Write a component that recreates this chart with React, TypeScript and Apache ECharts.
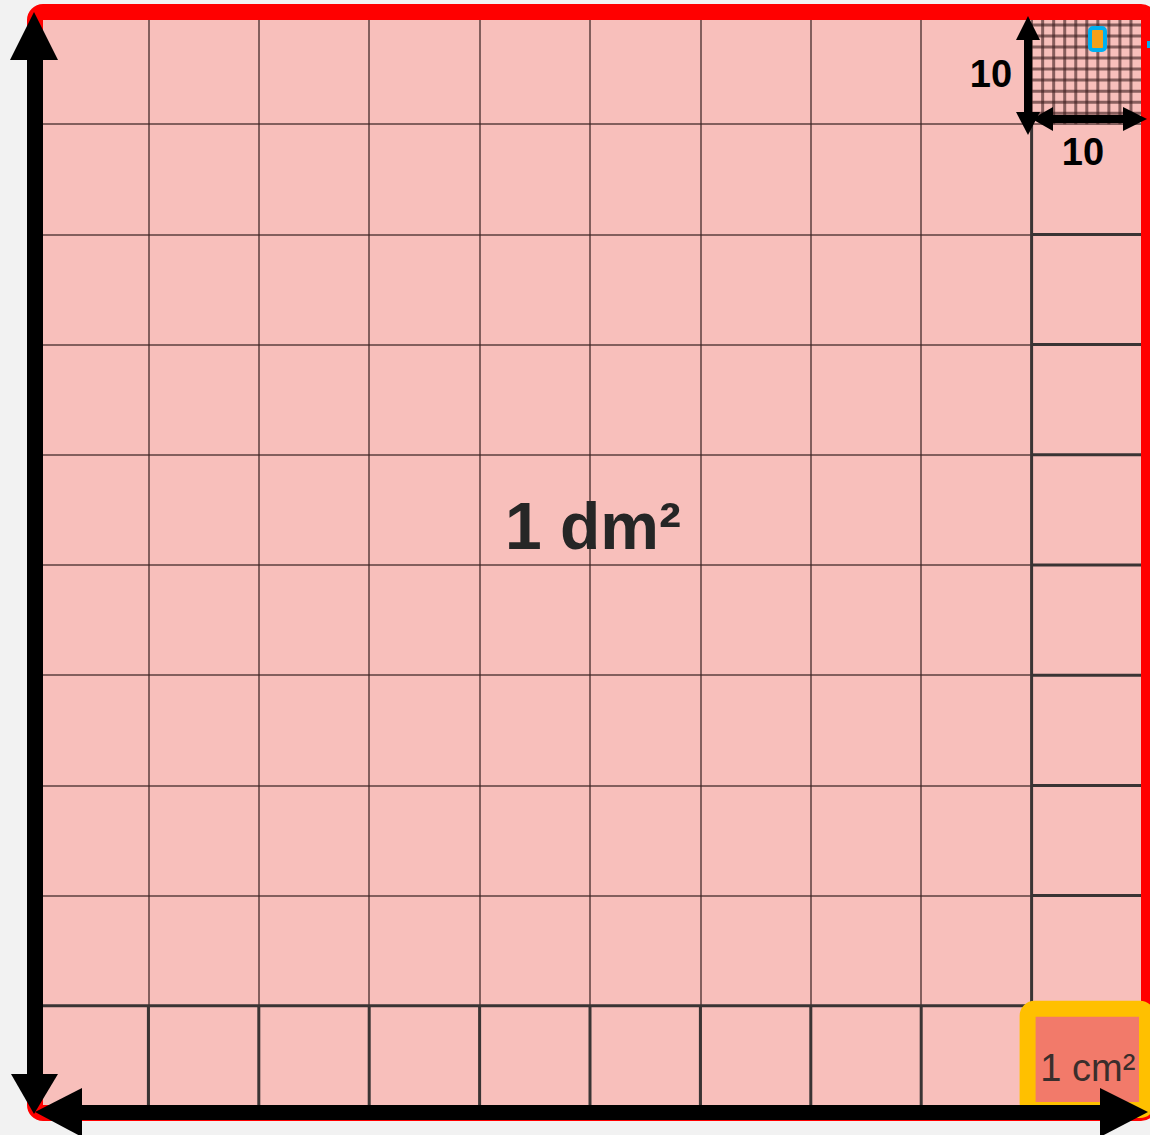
import React, { useEffect, useRef } from "react";
import * as echarts from "echarts";

// ---- data (square decomposed into 10 x 10 cells, one cell into 10 x 10 sub-cells)
const axisMin = 0;
const axisMax = 10;
const axisStep = 1;
const rowDividers = [1, 2, 3, 4, 5, 6, 7, 8]; // thick dividers in bottom row / right column
const separatorRow = 1; // thick line separating the bottom row
const separatorCol = 9; // thick line separating the right column
const fineCell = [9, 9]; // lower-left corner of the subdivided cell
const fineSteps = [1, 2, 3, 4, 5, 6, 7, 8, 9]; // tenth subdivisions
const unitCell = [9, 0]; // the highlighted 1 cm² cell
const bigLabel = "1 dm²";
const smallLabel = "1 cm²";
const sideLabels = ["10", "10"];

const GRID = { left: 38, top: 14, width: 1104, height: 1102 };

export default function App() {
  const ref = useRef<HTMLDivElement>(null);
  useEffect(() => {
    if (!ref.current) return;
    const chart = echarts.init(ref.current, null, { renderer: "svg" });

    const thickSegments: number[][] = [];
    rowDividers.forEach((v) => {
      thickSegments.push([v, 0, v, separatorRow]);
      thickSegments.push([separatorCol, v, axisMax, v]);
    });
    thickSegments.push([axisMin, separatorRow, axisMax, separatorRow]);
    thickSegments.push([separatorCol, axisMin, separatorCol, separatorCol]);

    const fineSegments: number[][] = [];
    fineSteps.forEach((k) => {
      const t = k / 10;
      fineSegments.push([fineCell[0] + t, fineCell[1], fineCell[0] + t, fineCell[1] + 1]);
      fineSegments.push([fineCell[0], fineCell[1] + t, fineCell[0] + 1, fineCell[1] + t]);
    });

    const axisCommon = {
      type: "value",
      min: axisMin,
      max: axisMax,
      interval: axisStep,
      axisLine: { show: false },
      axisTick: { show: false },
      axisLabel: { show: false },
      splitLine: { show: true, lineStyle: { color: "rgba(60,35,35,0.62)", width: 2 } },
    };

    const segRender = (color: string, width: number) => (params: any, api: any) => {
      const p1 = api.coord([api.value(0), api.value(1)]);
      const p2 = api.coord([api.value(2), api.value(3)]);
      return {
        type: "line",
        shape: { x1: p1[0], y1: p1[1], x2: p2[0], y2: p2[1] },
        style: { stroke: color, lineWidth: width },
      };
    };

    chart.setOption({
      animation: false,
      backgroundColor: "#f2f2f2",
      grid: { ...GRID, show: true, backgroundColor: "#f8bfbb", borderWidth: 0 },
      xAxis: axisCommon,
      yAxis: axisCommon,
      series: [
        {
          type: "custom",
          z: 10,
          renderItem: segRender("rgba(60,30,30,0.6)", 3),
          data: fineSegments,
          silent: true,
        },
        {
          type: "custom",
          z: 11,
          renderItem: segRender("#3a3434", 3),
          data: thickSegments,
          silent: true,
        },
        {
          type: "custom",
          z: 60,
          silent: true,
          data: [[unitCell[0], unitCell[1], unitCell[0] + 1, unitCell[1] + 1]],
          renderItem: (params: any, api: any) => {
            const p1 = api.coord([api.value(0), api.value(3)]);
            const p2 = api.coord([api.value(2), api.value(1)]);
            const x = p1[0] - 4;
            const y = p1[1] + 3;
            const w = p2[0] - p1[0] + 9;
            const h = p2[1] - p1[1] - 9;
            return {
              type: "group",
              children: [
                {
                  type: "rect",
                  shape: { x, y, width: w, height: h, r: 7 },
                  style: { fill: "#f27a6a", stroke: "#ffc000", lineWidth: 16 },
                },
                {
                  type: "text",
                  style: {
                    text: smallLabel,
                    x: (p1[0] + p2[0]) / 2 + 1,
                    y: (p1[1] + p2[1]) / 2 + 7,
                    align: "center",
                    verticalAlign: "middle",
                    fontSize: 38,
                    fontFamily: "Liberation Sans, Arial, sans-serif",
                    fill: "#3a2e2c",
                  },
                },
              ],
            };
          },
        },
      ],
      graphic: [
        // red frame
        {
          type: "rect",
          z: 50,
          silent: true,
          shape: { x: 35, y: 12, width: 1114, height: 1101, r: 8 },
          style: { fill: "none", stroke: "#ff0000", lineWidth: 16 },
        },
        // big label
        {
          type: "text",
          z: 100,
          style: {
            text: bigLabel,
            x: 593,
            y: 526,
            align: "center",
            verticalAlign: "middle",
            fontSize: 66,
            fontWeight: "bold",
            fontFamily: "Liberation Sans, Arial, sans-serif",
            fill: "#262626",
          },
        },
        // big vertical arrow
        { type: "rect", z: 100, shape: { x: 27, y: 50, width: 16, height: 1030 }, style: { fill: "#000" } },
        { type: "polygon", z: 100, shape: { points: [[34, 12], [10, 60], [58, 60]] }, style: { fill: "#000" } },
        { type: "polygon", z: 100, shape: { points: [[34, 1114], [11, 1074], [58, 1074]] }, style: { fill: "#000" } },
        // big horizontal arrow
        { type: "rect", z: 100, shape: { x: 60, y: 1105, width: 1060, height: 15 }, style: { fill: "#000" } },
        { type: "polygon", z: 100, shape: { points: [[35, 1112], [82, 1088], [82, 1137]] }, style: { fill: "#000" } },
        { type: "polygon", z: 100, shape: { points: [[1148, 1112], [1100, 1088], [1100, 1137]] }, style: { fill: "#000" } },
        // small vertical arrow
        { type: "rect", z: 100, shape: { x: 1024, y: 36, width: 8, height: 80 }, style: { fill: "#000" } },
        { type: "polygon", z: 100, shape: { points: [[1028, 16], [1016, 40], [1040, 40]] }, style: { fill: "#000" } },
        { type: "polygon", z: 100, shape: { points: [[1028, 135], [1016, 112], [1040, 112]] }, style: { fill: "#000" } },
        // small horizontal arrow
        { type: "rect", z: 100, shape: { x: 1045, y: 115, width: 85, height: 8 }, style: { fill: "#000" } },
        { type: "polygon", z: 100, shape: { points: [[1032, 119], [1053, 107], [1053, 131]] }, style: { fill: "#000" } },
        { type: "polygon", z: 100, shape: { points: [[1147, 119], [1123, 107], [1123, 131]] }, style: { fill: "#000" } },
        // side labels
        {
          type: "text",
          z: 100,
          style: {
            text: sideLabels[0],
            x: 991,
            y: 74,
            align: "center",
            verticalAlign: "middle",
            fontSize: 38,
            fontWeight: "bold",
            fontFamily: "Liberation Sans, Arial, sans-serif",
            fill: "#000",
          },
        },
        {
          type: "text",
          z: 100,
          style: {
            text: sideLabels[1],
            x: 1083,
            y: 152,
            align: "center",
            verticalAlign: "middle",
            fontSize: 38,
            fontWeight: "bold",
            fontFamily: "Liberation Sans, Arial, sans-serif",
            fill: "#000",
          },
        },
        // tiny marker
        {
          type: "rect",
          z: 100,
          shape: { x: 1090, y: 28, width: 15, height: 22, r: 3 },
          style: { fill: "#f5a01a", stroke: "#00b0f0", lineWidth: 4 },
        },
        { type: "rect", z: 100, shape: { x: 1147, y: 41, width: 6, height: 7 }, style: { fill: "#00b0f0" } },
      ],
    });
    return () => chart.dispose();
  }, []);

  return (
    <div
      ref={ref}
      style={{ position: "fixed", left: 0, top: 0, width: 1150, height: 1135, background: "#f2f2f2" }}
    />
  );
}
